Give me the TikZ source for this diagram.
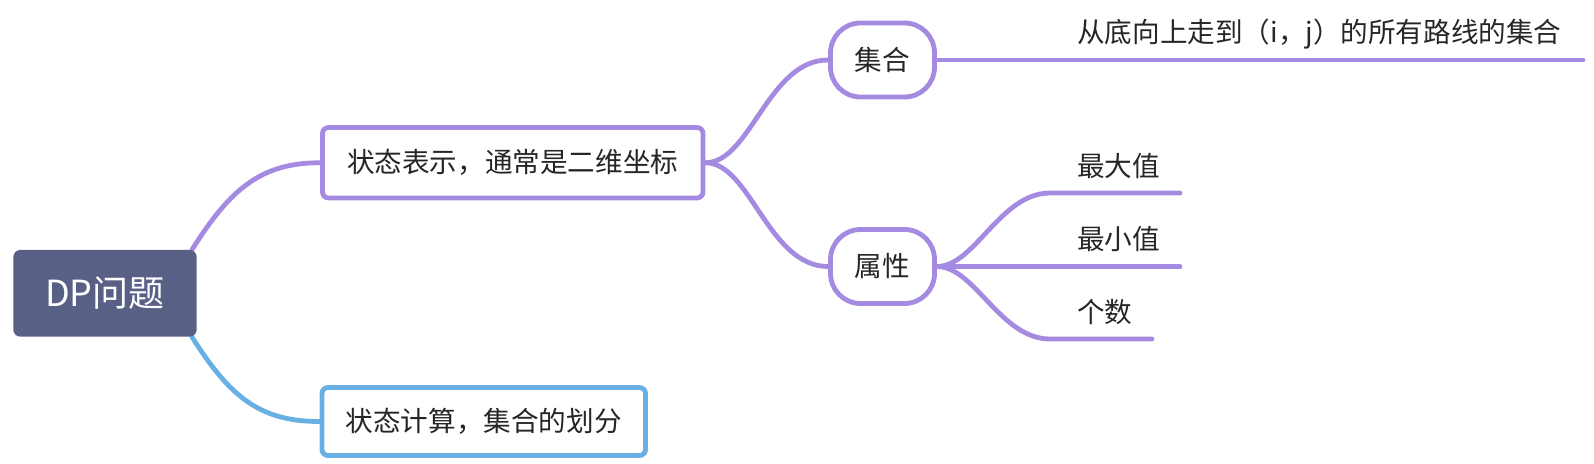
\documentclass[tikz,border=0pt]{standalone}
\usepackage{fontspec}
\newfontfamily\cjk{Noto Sans CJK SC}
\usetikzlibrary{backgrounds}
\definecolor{mmpurple}{RGB}{164,138,224}
\definecolor{mmblue}{RGB}{104,176,228}
\definecolor{rootfill}{RGB}{89,96,134}
\definecolor{txt}{RGB}{38,38,38}
\begin{document}
\begin{tikzpicture}[x=1pt,y=-1pt,
  conn/.style={line width=4.8pt, line cap=round},
  purp/.style={conn, draw=mmpurple},
  bluec/.style={conn, draw=mmblue},
  lbl/.style={font=\cjk\fontsize{27.6}{32}\selectfont, text=txt},
  topicbox/.style={lbl, draw, rounded corners=6pt, line width=4.8pt, fill=white, inner sep=0pt},
  pill/.style={topicbox, rounded corners=30pt, minimum width=104pt, minimum height=74pt},
  leaf/.style={lbl, anchor=west, inner sep=0pt},
  rootbox/.style={fill=rootfill, rounded corners=7pt, inner sep=0pt, text=white,
    font=\cjk\fontsize{36}{42}\selectfont, minimum width=183.4pt, minimum height=86.7pt}
]
\useasboundingbox (0,0) rectangle (1594,463);

\node[rootbox] (root) at (105,293.3) {DP问题};
\node[topicbox, draw=mmpurple, minimum width=380.5pt, minimum height=70.5pt] (b1) at (512.75,162.75) {状态表示，通常是二维坐标};
\node[topicbox, draw=mmblue, minimum width=323.5pt, minimum height=68pt] (b2) at (483.75,421.5) {状态计算，集合的划分};
\node[pill, draw=mmpurple] (jihe) at (882.5,60) {集合};
\node[pill, draw=mmpurple] (shux) at (882.5,266.5) {属性};

\node[leaf] (tlong) at (1077,34.5) {从底向上走到（i，j）的所有路线的集合};
\node[leaf] (tmax) at (1077,166) {最大值};
\node[leaf] (tmin) at (1077,239.5) {最小值};
\node[leaf] (tcnt) at (1077,312) {个数};

\coordinate (longe) at (1583,60);
\coordinate (maxs) at (1050,193);
\coordinate (maxe) at (1180,193);
\coordinate (mine) at (1180,266.5);
\coordinate (cnts) at (1050,339);
\coordinate (cnte) at (1152,339);

\begin{scope}[on background layer]
\draw[purp] ([xshift=-5pt]root.north east) .. controls +(38,-60) and +(-60,0) .. (b1.west);
\draw[bluec] ([xshift=-5pt]root.south east) .. controls +(38,60) and +(-60,0) .. (b2.west);
\draw[purp] (b1.east) .. controls +(45,0) and +(-60,0) .. (jihe.west);
\draw[purp] (b1.east) .. controls +(45,0) and +(-60,0) .. (shux.west);
\draw[purp] (jihe.east) -- (longe);
\draw[purp] (shux.east) .. controls +(38,0) and +(-50,0) .. (maxs) -- (maxe);
\draw[purp] (shux.east) -- (mine);
\draw[purp] (shux.east) .. controls +(38,0) and +(-50,0) .. (cnts) -- (cnte);
\end{scope}
\end{tikzpicture}
\end{document}
